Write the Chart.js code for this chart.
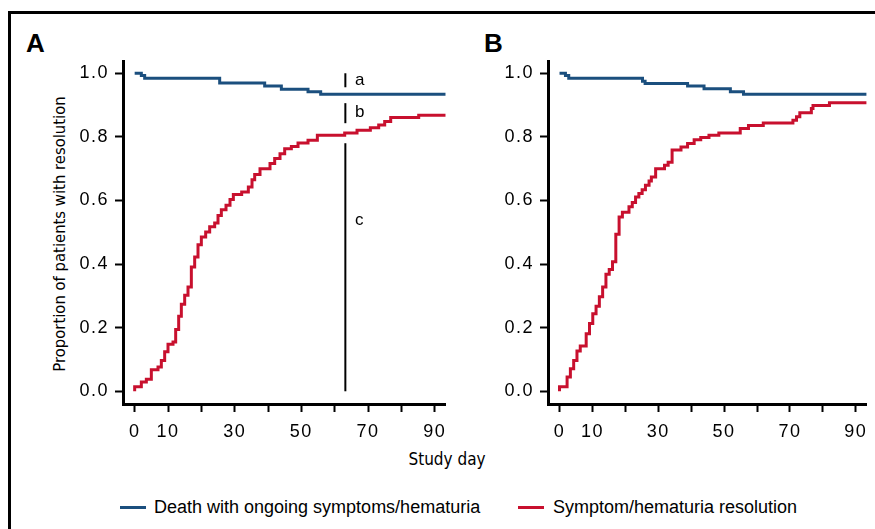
<!DOCTYPE html>
<html>
<head>
<meta charset="utf-8">
<script src="https://cdn.jsdelivr.net/npm/chart.js@4.4.1/dist/chart.umd.min.js"></script>
<style>
  html, body { margin: 0; padding: 0; background: #fff; }
  body { width: 875px; height: 529px; position: relative; overflow: hidden; font-family: 'Liberation Sans', Arial, sans-serif; color: #000; }
  .frame { position: absolute; left: 8px; top: 11px; width: 900px; height: 600px; border-left: 3px solid #000; border-top: 3px solid #000; }
  .panel { position: absolute; }
  .tag { position: absolute; font: bold 26px 'Liberation Sans', Arial, sans-serif; line-height: 26px; }
  .narrow { font-family: 'Liberation Sans Narrow', 'Arial Narrow', 'DejaVu Sans Condensed', sans-serif; }
  .ytitle { position: absolute; left: -90px; top: 224px; width: 300px; text-align: center; font-size: 16.5px; line-height: 20px; transform: rotate(-90deg); }
  .xtitle { position: absolute; left: 347px; top: 450px; width: 200px; text-align: center; font-size: 17px; line-height: 19px; }
  .sw { position: absolute; height: 3px; width: 26px; top: 506px; }
  .lg { position: absolute; top: 498px; font-size: 18px; line-height: 18px; white-space: nowrap; }
</style>
</head>
<body>
<div class="frame"></div>
<div class="tag" style="left:26px; top:30px;">A</div>
<div class="tag" style="left:484px; top:30px;">B</div>
<div class="ytitle narrow">Proportion of patients with resolution</div>
<div class="xtitle narrow">Study day</div>
<div class="sw" style="left:120px; background:#1b4f7e;"></div>
<div class="lg" style="left:154px;">Death with ongoing symptoms/hematuria</div>
<div class="sw" style="left:518px; background:#c8102e;"></div>
<div class="lg" style="left:553px;">Symptom/hematuria resolution</div>
<canvas id="chartA" class="panel" width="420" height="420" style="left:40px; top:40px;"></canvas>
<canvas id="chartB" class="panel" width="405" height="420" style="left:470px; top:40px;"></canvas>
<script>
// axes
const xTicks = [0, 10, 20, 30, 40, 50, 60, 70, 80, 90];
const xLabelled = [0, 10, 30, 50, 70, 90];
const yTicks = [0, 0.2, 0.4, 0.6, 0.8, 1.0];
const xMin = -3.5, xMax = 93.3;
const yMin = -0.04, yMax = 1.037;

// panel A
const deathDaysA = [0, 2, 3, 25.5, 39, 44, 52, 55.8, 93.3];
const deathA = [1.0, 0.993, 0.984, 0.969, 0.96, 0.95, 0.942, 0.934, 0.934];
const resolDaysA = [0, 0, 2, 3.5, 5, 7, 8, 9, 10, 11.5, 12.3, 13.2, 14, 15, 16, 17, 18, 19, 20, 21.3,
  22.5, 24, 25, 26, 27.4, 28.6, 29.6, 32.1, 34.1, 35.2, 36, 37.6, 40.6, 42, 43.6, 45, 47, 49, 52,
  54.8, 63, 66.7, 70.7, 73.2, 75, 76.8, 85.2, 93.3];
const resolA = [0, 0.014, 0.029, 0.038, 0.068, 0.076, 0.097, 0.124, 0.148, 0.155, 0.194, 0.236, 0.274,
  0.302, 0.328, 0.391, 0.422, 0.461, 0.485, 0.501, 0.517, 0.529, 0.553, 0.571, 0.585, 0.603, 0.619,
  0.627, 0.642, 0.665, 0.682, 0.7, 0.716, 0.732, 0.747, 0.763, 0.77, 0.781, 0.789, 0.805, 0.812,
  0.821, 0.829, 0.837, 0.848, 0.861, 0.868, 0.868];

// panel B
const deathDaysB = [0, 1.8, 2.8, 25.2, 26, 38.9, 43.9, 51.9, 55.9, 93.3];
const deathB = [1.0, 0.993, 0.984, 0.975, 0.968, 0.96, 0.951, 0.942, 0.934, 0.934];
const resolDaysB = [0, 0, 2.3, 3.3, 4.3, 5.3, 6.3, 8.1, 9.1, 10.1, 11.1, 12.1, 13.1, 14.1, 15.1, 16.1,
  17.1, 18.1, 19.1, 21.1, 22.1, 23.1, 24.1, 25.1, 26.1, 27.2, 27.9, 29.2, 31.9, 33, 34.2, 36.9, 38.9,
  40.9, 42.9, 45.4, 48.4, 54.9, 57.4, 61.9, 70.9, 72, 73, 76.5, 77, 82, 93.3];
const resolB = [0, 0.014, 0.045, 0.071, 0.097, 0.127, 0.142, 0.181, 0.213, 0.244, 0.267, 0.297, 0.328,
  0.368, 0.383, 0.407, 0.494, 0.548, 0.563, 0.58, 0.594, 0.611, 0.622, 0.634, 0.648, 0.661, 0.674,
  0.7, 0.711, 0.72, 0.759, 0.768, 0.779, 0.791, 0.798, 0.805, 0.812, 0.826, 0.836, 0.844, 0.852,
  0.863, 0.876, 0.889, 0.899, 0.907, 0.907];

// a / b / c markers in panel A
const markDay = 63.2;
const markSegs = [[0.956, 1.0], [0.843, 0.906], [0, 0.78]];
const markLabels = ['a', 'b', 'c'];
const markLabelDay = 66.1;
const markLabelY = [0.977, 0.876, 0.539];

const BLUE = '#1b4f7e';
const RED = '#c8102e';
const tickFont = { family: "'Liberation Sans', Arial, sans-serif", size: 18 };

function pts(days, vals) {
  return days.map((d, i) => ({ x: d, y: vals[i] }));
}

const spacing = {
  id: 'spacing',
  beforeDraw(chart) { chart.ctx.letterSpacing = '1.5px'; }
};

const marks = {
  id: 'marks',
  afterDatasetsDraw(chart) {
    const { ctx, scales: { x, y } } = chart;
    const px = x.getPixelForValue(markDay);
    ctx.save();
    ctx.strokeStyle = '#000';
    ctx.lineWidth = 2;
    markSegs.forEach(([lo, hi]) => {
      ctx.beginPath();
      ctx.moveTo(px, y.getPixelForValue(lo));
      ctx.lineTo(px, y.getPixelForValue(hi));
      ctx.stroke();
    });
    ctx.letterSpacing = '0px';
    ctx.fillStyle = '#000';
    ctx.font = "17px 'Liberation Sans', Arial, sans-serif";
    ctx.textAlign = 'left';
    ctx.textBaseline = 'middle';
    markLabels.forEach((t, i) => {
      ctx.fillText(t, x.getPixelForValue(markLabelDay), y.getPixelForValue(markLabelY[i]));
    });
    ctx.restore();
  }
};

function makeChart(id, deathDays, death, resolDays, resol, yWidth, padRight, extra) {
  return new Chart(document.getElementById(id), {
    type: 'line',
    data: {
      datasets: [
        {
          label: 'Death with ongoing symptoms/hematuria',
          data: pts(deathDays, death),
          borderColor: BLUE,
          borderWidth: 3,
          stepped: true,
          pointRadius: 0,
          fill: false
        },
        {
          label: 'Symptom/hematuria resolution',
          data: pts(resolDays, resol),
          borderColor: RED,
          borderWidth: 3,
          stepped: true,
          pointRadius: 0,
          fill: false
        }
      ]
    },
    options: {
      responsive: false,
      animation: false,
      layout: { padding: { top: 21.5, right: padRight, left: 0, bottom: 0 } },
      plugins: { legend: { display: false }, tooltip: { enabled: false } },
      scales: {
        x: {
          type: 'linear',
          min: xMin,
          max: xMax,
          afterBuildTicks: (s) => { s.ticks = xTicks.map(v => ({ value: v })); },
          afterFit: (s) => { s.height = 56; },
          grid: { drawOnChartArea: false, tickLength: 8, tickWidth: 2, tickColor: '#000' },
          border: { color: '#000', width: 3 },
          ticks: {
            autoSkip: false,
            maxRotation: 0,
            padding: 9,
            color: '#000',
            font: tickFont,
            callback: (v) => xLabelled.includes(v) ? String(v) : ''
          }
        },
        y: {
          min: yMin,
          max: yMax,
          afterBuildTicks: (s) => { s.ticks = yTicks.map(v => ({ value: v })); },
          afterFit: (s) => { s.width = yWidth; },
          grid: { drawOnChartArea: false, tickLength: 8, tickWidth: 2, tickColor: '#000' },
          border: { color: '#000', width: 3 },
          ticks: {
            padding: 6,
            color: '#000',
            font: tickFont,
            callback: (v) => v.toFixed(1)
          }
        }
      }
    },
    plugins: [spacing].concat(extra)
  });
}

makeChart('chartA', deathDaysA, deathA, resolDaysA, resolA, 83, 14.3, [marks]);
makeChart('chartB', deathDaysB, deathB, resolDaysB, resolB, 78, 6, []);
</script>
</body>
</html>
